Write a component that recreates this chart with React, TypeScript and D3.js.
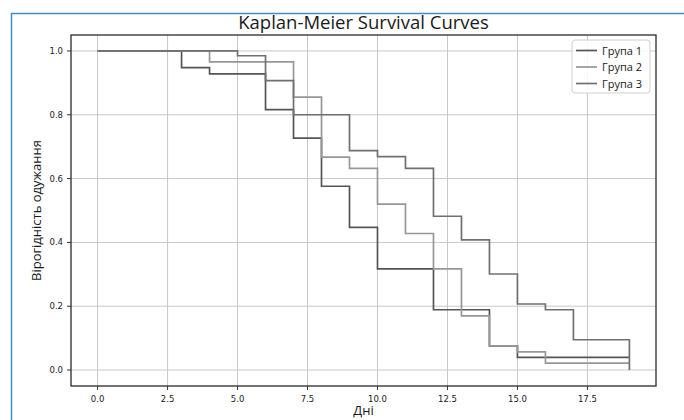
import React from "react";
import * as d3 from "d3";

const groupNames = ["Група 1", "Група 2", "Група 3"];
const group1Times = [0, 3, 4, 6, 7, 8, 9, 10, 12, 14, 15, 19];
const group1Surv = [1.0, 0.948, 0.928, 0.816, 0.727, 0.576, 0.447, 0.317, 0.189, 0.076, 0.04, 0.04];
const group2Times = [0, 4, 7, 8, 9, 10, 11, 12, 13, 14, 15, 16, 19];
const group2Surv = [1.0, 0.966, 0.855, 0.667, 0.632, 0.52, 0.428, 0.317, 0.17, 0.076, 0.057, 0.022, 0.022];
const group3Times = [0, 5, 6, 7, 9, 10, 11, 12, 13, 14, 15, 16, 17, 19];
const group3Surv = [1.0, 0.985, 0.907, 0.8, 0.6875, 0.669, 0.632, 0.482, 0.408, 0.301, 0.207, 0.189, 0.095, 0.0];
const xTicks = [0, 2.5, 5, 7.5, 10, 12.5, 15, 17.5];
const yTicks = [0, 0.2, 0.4, 0.6, 0.8, 1.0];
const title = "Kaplan-Meier Survival Curves";
const xLabel = "Дні";
const yLabel = "Вірогідність одужання";

const colors = ["#555555", "#979797", "#707070"];

export default function App() {
  const W = 684, H = 420;
  const left = 71, right = 656, top = 35, bottom = 386;
  const x = d3.scaleLinear().domain([-0.95, 19.95]).range([left, right]);
  const y = d3.scaleLinear().domain([-0.05, 1.05]).range([bottom, top]);
  const series = [
    group1Times.map((t, i) => [t, group1Surv[i]] as [number, number]),
    group2Times.map((t, i) => [t, group2Surv[i]] as [number, number]),
    group3Times.map((t, i) => [t, group3Surv[i]] as [number, number]),
  ];
  const line = d3
    .line<[number, number]>()
    .x((d) => x(d[0]))
    .y((d) => y(d[1]))
    .curve(d3.curveStepAfter);
  const tickFont = "'DejaVu Sans', sans-serif";
  const textFont = "'Open Sans', 'Noto Sans', sans-serif";
  return (
    <svg
      width={W}
      height={H}
      style={{ position: "absolute", left: 0, top: 0, background: "#fff" }}
    >
      <rect x={0} y={0} width={W} height={H} fill="#fff" />
      <path d={`M11.5,${H} V13.5 H${W}`} fill="none" stroke="#3d8fc4" strokeWidth={1.5} />
      {/* grid */}
      {xTicks.map((t) => (
        <line key={"gx" + t} x1={x(t)} x2={x(t)} y1={top} y2={bottom} stroke="#c8c8c8" strokeWidth={1} />
      ))}
      {yTicks.map((t) => (
        <line key={"gy" + t} x1={left} x2={right} y1={y(t)} y2={y(t)} stroke="#c8c8c8" strokeWidth={1} />
      ))}
      {/* curves */}
      {series.map((s, i) => (
        <path key={"s" + i} d={line(s) || ""} fill="none" stroke={colors[i]} strokeWidth={1.7} />
      ))}
      {/* frame */}
      <rect x={left} y={top} width={right - left} height={bottom - top} fill="none" stroke="#2a2a2a" strokeWidth={1.3} />
      {/* ticks */}
      {xTicks.map((t) => (
        <g key={"tx" + t}>
          <line x1={x(t)} x2={x(t)} y1={bottom} y2={bottom + 4} stroke="#333" strokeWidth={1} />
          <text x={x(t)} y={402} textAnchor="middle" fontFamily={tickFont} fontSize={8.5} fill="#1a1a1a">
            {t.toFixed(1)}
          </text>
        </g>
      ))}
      {yTicks.map((t) => (
        <g key={"ty" + t}>
          <line x1={left - 4} x2={left} y1={y(t)} y2={y(t)} stroke="#333" strokeWidth={1} />
          <text x={left - 8} y={y(t) + 3} textAnchor="end" fontFamily={tickFont} fontSize={8.5} fill="#1a1a1a">
            {t.toFixed(1)}
          </text>
        </g>
      ))}
      {/* title & labels */}
      <text x={(left + right) / 2} y={29} textAnchor="middle" fontFamily={textFont} fontSize={18.5} fill="#1a1a1a">
        {title}
      </text>
      <text x={(left + right) / 2} y={415} textAnchor="middle" fontFamily={textFont} fontSize={13} fill="#1a1a1a">
        {xLabel}
      </text>
      <text
        transform={`translate(41,${(top + bottom) / 2}) rotate(-90)`}
        textAnchor="middle"
        fontFamily={textFont}
        fontSize={13}
        fill="#1a1a1a"
      >
        {yLabel}
      </text>
      {/* legend */}
      <rect x={572} y={40} width={78} height={53} rx={3} fill="#fff" fillOpacity={0.85} stroke="#d0d0d0" strokeWidth={1} />
      {groupNames.map((n, i) => (
        <g key={"lg" + i}>
          <line x1={576} x2={597} y1={50.5 + i * 16.5} y2={50.5 + i * 16.5} stroke={colors[i]} strokeWidth={1.7} />
          <text x={602} y={54.5 + i * 16.5} fontFamily={textFont} fontSize={11} fill="#1a1a1a">
            {n}
          </text>
        </g>
      ))}
    </svg>
  );
}
